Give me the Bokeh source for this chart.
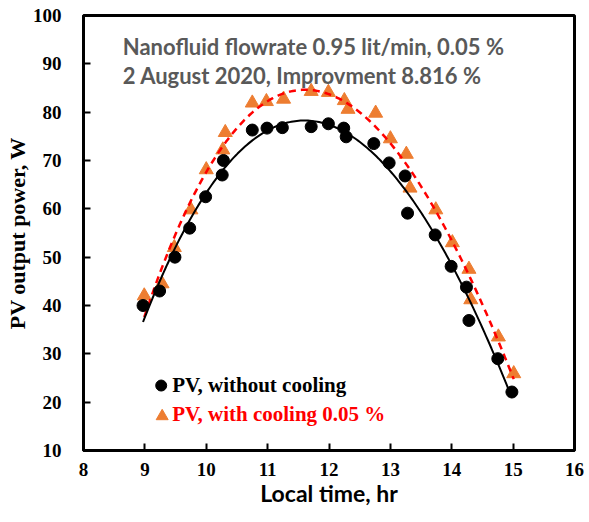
import numpy as np
from bokeh.plotting import figure
from bokeh.models import FixedTicker, Range1d
from bokeh.core.properties import value
from bokeh.embed import file_html
from bokeh.resources import INLINE

# ---- data ----
time_no_cool = [8.97, 9.24, 9.49, 9.73, 9.99, 10.26, 10.28, 10.75, 10.99, 11.24,
                11.71, 11.99, 12.24, 12.28, 12.73, 12.98, 13.24, 13.28, 13.73,
                13.99, 14.24, 14.28, 14.75, 14.98]
power_no_cool = [40.0, 43.0, 50.0, 56.0, 62.5, 67.0, 70.0, 76.3, 76.7, 76.8,
                 77.0, 77.6, 76.7, 74.9, 73.5, 69.5, 66.8, 59.1, 54.6,
                 48.1, 43.8, 36.9, 29.0, 22.1]
time_cool = [8.99, 9.28, 9.48, 9.75, 10.0, 10.27, 10.31, 10.75, 10.98, 11.26,
             11.71, 11.99, 12.25, 12.31, 12.76, 13.0, 13.26, 13.32, 13.74,
             14.01, 14.28, 14.31, 14.76, 15.01]
power_cool = [42.0, 44.5, 52.0, 59.8, 68.1, 72.2, 75.8, 81.9, 82.2, 82.7,
              84.3, 84.1, 82.4, 80.6, 79.8, 74.5, 71.3, 64.3, 59.8,
              53.0, 47.5, 41.2, 33.5, 25.9]
x_ticks = [8, 9, 10, 11, 12, 13, 14, 15, 16]
y_ticks = [10, 20, 30, 40, 50, 60, 70, 80, 90, 100]
legend_labels = ["PV, without cooling", "PV, with cooling 0.05 %"]
note_lines = ["Nanofluid flowrate 0.95 lit/min, 0.05 %",
              "2 August 2020, Improvment 8.816 %"]
x_label = "Local time, hr"
y_label = "PV output power, W"

p = figure(width=584, height=510,
           x_range=Range1d(8, 16), y_range=Range1d(10, 100),
           output_backend="svg", toolbar_location=None,
           min_border_left=83, min_border_right=10,
           min_border_top=15, min_border_bottom=60)
p.grid.visible = False
p.background_fill_color = "white"
p.border_fill_color = "white"
p.outline_line_color = "black"
p.outline_line_width = 3
p.outline_line_alpha = 1.0

for ax in (p.xaxis, p.yaxis):
    ax.axis_line_width = 3
    ax.axis_line_color = "black"
    ax.major_tick_in = 7
    ax.major_tick_out = 0
    ax.major_tick_line_width = 2
    ax.major_tick_line_color = "black"
    ax.minor_tick_line_color = None
    ax.major_label_text_font = "Liberation Serif"
    ax.major_label_text_font_style = "bold"
    ax.major_label_text_font_size = "19px"
    ax.major_label_text_color = "black"

p.xaxis.ticker = FixedTicker(ticks=x_ticks)
p.yaxis.ticker = FixedTicker(ticks=y_ticks)
p.xaxis.major_label_standoff = 12
p.yaxis.major_label_standoff = 22

p.xaxis.axis_label = x_label
p.xaxis.axis_label_text_font = "Lato"
p.xaxis.axis_label_text_font_style = "bold"
p.xaxis.axis_label_text_font_size = "23px"
p.xaxis.axis_label_text_color = "black"
p.xaxis.axis_label_standoff = 0

p.yaxis.axis_label = y_label
p.yaxis.axis_label_text_font = "Liberation Serif"
p.yaxis.axis_label_text_font_style = "bold"
p.yaxis.axis_label_text_font_size = "22px"
p.yaxis.axis_label_text_color = "black"
p.yaxis.axis_label_standoff = 0

# trend lines (polynomial fits of the data)
c_nc = np.polyfit(time_no_cool, power_no_cool, 3)
c_c = np.polyfit(time_cool, power_cool, 3)
xs_nc = np.linspace(min(time_no_cool), max(time_no_cool), 200)
xs_c = np.linspace(min(time_cool), max(time_cool), 200)

p.scatter(time_cool, power_cool, marker="triangle", size=14,
          fill_color="#ED7D31", line_color="#ED7D31")
p.line(xs_c, np.polyval(c_c, xs_c), line_color="#FF0000", line_width=2.5,
       line_dash="7 5")
p.scatter(time_no_cool, power_no_cool, marker="circle", size=12,
          fill_color="black", line_color="black")
p.line(xs_nc, np.polyval(c_nc, xs_nc), line_color="black", line_width=2)

# legend (custom, to colour the second label red)
p.scatter([9.266], [23.44], marker="circle", size=11, fill_color="black",
          line_color="black")
p.scatter([9.282], [17.09], marker="triangle", size=12, fill_color="#ED7D31",
          line_color="#ED7D31")
p.text([9.445], [23.61], text=[legend_labels[0]], text_font=value("Liberation Serif"),
       text_font_style="bold", text_font_size="21px", text_color="black",
       text_baseline="middle", text_align="left")
p.text([9.445], [17.59], text=[legend_labels[1]], text_font=value("Liberation Serif"),
       text_font_style="bold", text_font_size="21px", text_color="#FF0000",
       text_baseline="middle", text_align="left")

# note text
p.text([8.64, 8.64], [93.63, 87.52], text=note_lines, text_font=value("Lato"),
       text_font_style="bold", text_font_size="22px", text_color="#595959",
       text_baseline="middle", text_align="left")

open("out.html", "w").write(file_html(p, INLINE))
